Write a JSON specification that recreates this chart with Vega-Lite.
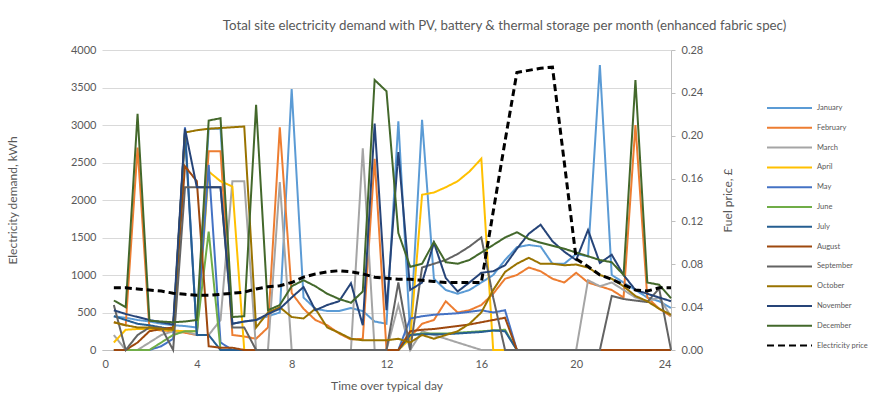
{
"$schema": "https://vega.github.io/schema/vega-lite/v6.json",
"width": 569, "height": 300,
"autosize": {"type": "none"},
"padding": {"left": 102, "top": 50, "right": 214, "bottom": 62},
"background": "white",
"config": {"font": "Lato", "view": {"stroke": null}},
"title": {"text": "Total site electricity demand with PV, battery & thermal storage per month  (enhanced fabric spec)", "fontSize": 13.3, "fontWeight": "normal", "color": "#595959", "anchor": "middle", "dx": 118, "offset": 12},
"data": {"values": [
{"t":0.5,"January":450,"February":370,"March":200,"April":100,"May":0,"June":0,"July":450,"August":0,"September":600,"October":370,"November":530,"December":660,"Electricity price":0.058},
{"t":1,"January":430,"February":330,"March":0,"April":270,"May":0,"June":0,"July":400,"August":0,"September":0,"October":330,"November":480,"December":570,"Electricity price":0.058},
{"t":1.5,"January":400,"February":2700,"March":0,"April":280,"May":0,"June":0,"July":350,"August":100,"September":200,"October":300,"November":440,"December":3150,"Electricity price":0.057},
{"t":2,"January":380,"February":280,"March":100,"April":280,"May":0,"June":0,"July":330,"August":250,"September":300,"October":300,"November":400,"December":390,"Electricity price":0.056},
{"t":2.5,"January":350,"February":260,"March":200,"April":270,"May":50,"June":100,"July":300,"August":280,"September":300,"October":280,"November":370,"December":380,"Electricity price":0.055},
{"t":3,"January":330,"February":250,"March":250,"April":260,"May":150,"June":200,"July":280,"August":300,"September":0,"October":270,"November":340,"December":370,"Electricity price":0.053},
{"t":3.5,"January":320,"February":230,"March":250,"April":250,"May":2970,"June":250,"July":2900,"August":2450,"September":2170,"October":2900,"November":2950,"December":380,"Electricity price":0.052},
{"t":4,"January":300,"February":200,"March":200,"April":250,"May":200,"June":250,"July":200,"August":2250,"September":2170,"October":2930,"November":2170,"December":400,"Electricity price":0.051},
{"t":4.5,"January":2950,"February":2650,"March":200,"April":2380,"May":2470,"June":1580,"July":200,"August":50,"September":2170,"October":2950,"November":2170,"December":3060,"Electricity price":0.051},
{"t":5,"January":2950,"February":2650,"March":400,"April":2250,"May":100,"June":0,"July":0,"August":30,"September":2170,"October":2960,"November":2170,"December":3090,"Electricity price":0.052},
{"t":5.5,"January":350,"February":200,"March":2250,"April":2180,"May":0,"June":0,"July":0,"August":30,"September":300,"October":2970,"November":350,"December":440,"Electricity price":0.053},
{"t":6,"January":380,"February":180,"March":2250,"April":0,"May":0,"June":0,"July":0,"August":0,"September":300,"October":2980,"November":380,"December":450,"Electricity price":0.054},
{"t":6.5,"January":400,"February":150,"March":0,"April":0,"May":0,"June":0,"July":0,"August":0,"September":0,"October":300,"November":400,"December":3270,"Electricity price":0.057},
{"t":7,"January":450,"February":300,"March":0,"April":0,"May":0,"June":0,"July":0,"August":0,"September":0,"October":500,"November":480,"December":530,"Electricity price":0.059},
{"t":7.5,"January":500,"February":2970,"March":2240,"April":0,"May":0,"June":0,"July":0,"August":0,"September":0,"October":570,"November":550,"December":600,"Electricity price":0.06},
{"t":8,"January":3480,"February":760,"March":0,"April":0,"May":0,"June":0,"July":0,"August":0,"September":0,"October":440,"November":700,"December":850,"Electricity price":0.063},
{"t":8.5,"January":700,"February":550,"March":0,"April":0,"May":0,"June":0,"July":0,"August":0,"September":0,"October":420,"November":840,"December":930,"Electricity price":0.068},
{"t":9,"January":550,"February":400,"March":0,"April":0,"May":0,"June":0,"July":0,"August":0,"September":0,"October":550,"November":530,"December":850,"Electricity price":0.071},
{"t":9.5,"January":520,"February":330,"March":0,"April":0,"May":0,"June":0,"July":0,"August":0,"September":0,"October":300,"November":600,"December":750,"Electricity price":0.073},
{"t":10,"January":520,"February":220,"March":0,"April":0,"May":0,"June":0,"July":0,"August":0,"September":0,"October":230,"November":650,"December":680,"Electricity price":0.074},
{"t":10.5,"January":560,"February":140,"March":0,"April":0,"May":0,"June":0,"July":0,"August":0,"September":0,"October":150,"November":890,"December":630,"Electricity price":0.073},
{"t":11,"January":520,"February":150,"March":2690,"April":0,"May":0,"June":0,"July":0,"August":0,"September":0,"October":130,"November":330,"December":780,"Electricity price":0.071},
{"t":11.5,"January":380,"February":2550,"March":0,"April":0,"May":0,"June":0,"July":0,"August":0,"September":0,"October":130,"November":3020,"December":3600,"Electricity price":0.068},
{"t":12,"January":350,"February":0,"March":0,"April":0,"May":0,"June":0,"July":0,"August":0,"September":0,"October":130,"November":530,"December":3450,"Electricity price":0.067},
{"t":12.5,"January":3050,"February":0,"March":600,"April":0,"May":0,"June":0,"July":0,"August":0,"September":900,"October":150,"November":2640,"December":1560,"Electricity price":0.066},
{"t":13,"January":200,"February":170,"March":0,"April":150,"May":420,"June":200,"July":200,"August":250,"September":0,"October":100,"November":800,"December":1110,"Electricity price":0.066},
{"t":13.5,"January":3070,"February":350,"March":250,"April":2070,"May":450,"June":220,"July":210,"August":270,"September":1100,"October":200,"November":900,"December":1150,"Electricity price":0.065},
{"t":14,"January":950,"February":400,"March":200,"April":2100,"May":470,"June":220,"July":210,"August":280,"September":1150,"October":150,"November":1430,"December":1440,"Electricity price":0.064},
{"t":14.5,"January":800,"February":650,"March":150,"April":2170,"May":480,"June":220,"July":210,"August":300,"September":1200,"October":200,"November":960,"December":1170,"Electricity price":0.063},
{"t":15,"January":750,"February":500,"March":100,"April":2250,"May":490,"June":230,"July":220,"August":320,"September":1280,"October":250,"November":780,"December":1150,"Electricity price":0.063},
{"t":15.5,"January":800,"February":530,"March":50,"April":2380,"May":510,"June":240,"July":230,"August":340,"September":1380,"October":350,"November":900,"December":1200,"Electricity price":0.063},
{"t":16,"January":900,"February":600,"March":0,"April":2550,"May":530,"June":250,"July":240,"August":370,"September":1500,"October":500,"November":1030,"December":1300,"Electricity price":0.063},
{"t":16.5,"January":1000,"February":750,"March":0,"April":0,"May":500,"June":260,"July":260,"August":400,"September":700,"October":800,"November":1050,"December":1400,"Electricity price":0.129},
{"t":17,"January":1200,"February":950,"March":0,"April":0,"May":530,"June":270,"July":250,"August":430,"September":0,"October":1040,"November":1130,"December":1500,"Electricity price":0.195},
{"t":17.5,"January":1370,"February":1000,"March":0,"April":0,"May":0,"June":0,"July":0,"August":0,"September":0,"October":1150,"November":1350,"December":1570,"Electricity price":0.259},
{"t":18,"January":1400,"February":1100,"March":0,"April":0,"May":0,"June":0,"July":0,"August":0,"September":0,"October":1230,"November":1550,"December":1480,"Electricity price":0.261},
{"t":18.5,"January":1380,"February":1050,"March":0,"April":0,"May":0,"June":0,"July":0,"August":0,"September":0,"October":1150,"November":1670,"December":1430,"Electricity price":0.263},
{"t":19,"January":1150,"February":950,"March":0,"April":0,"May":0,"June":0,"July":0,"August":0,"September":0,"October":1150,"November":1450,"December":1390,"Electricity price":0.264},
{"t":19.5,"January":1150,"February":900,"March":0,"April":0,"May":0,"June":0,"July":0,"August":0,"September":0,"October":1130,"November":1310,"December":1350,"Electricity price":0.175},
{"t":20,"January":1280,"February":1030,"March":0,"April":0,"May":0,"June":0,"July":0,"August":0,"September":0,"October":1140,"November":1200,"December":1300,"Electricity price":0.085},
{"t":20.5,"January":1250,"February":900,"March":930,"April":0,"May":0,"June":0,"July":0,"August":0,"September":0,"October":1100,"November":1600,"December":1250,"Electricity price":0.078},
{"t":21,"January":3800,"February":850,"March":850,"April":0,"May":0,"June":0,"July":0,"August":0,"September":0,"October":1000,"November":1160,"December":1200,"Electricity price":0.07},
{"t":21.5,"January":1000,"February":800,"March":900,"April":0,"May":0,"June":0,"July":0,"August":0,"September":720,"October":950,"November":1270,"December":1170,"Electricity price":0.066},
{"t":22,"January":900,"February":700,"March":800,"April":0,"May":0,"June":0,"July":0,"August":0,"September":680,"October":850,"November":1000,"December":1000,"Electricity price":0.061},
{"t":22.5,"January":800,"February":3000,"March":700,"April":0,"May":0,"June":0,"July":0,"August":0,"September":660,"October":720,"November":800,"December":3600,"Electricity price":0.056},
{"t":23,"January":700,"February":700,"March":650,"April":0,"May":0,"June":0,"July":0,"August":0,"September":640,"October":650,"November":750,"December":900,"Electricity price":0.055},
{"t":23.5,"January":650,"February":550,"March":700,"April":0,"May":0,"June":0,"July":0,"August":0,"September":820,"October":550,"November":700,"December":870,"Electricity price":0.058},
{"t":24,"January":560,"February":450,"March":450,"April":0,"May":0,"June":0,"July":0,"August":0,"September":0,"October":470,"November":650,"December":690,"Electricity price":0.058}
]},
"transform": [{"fold": ["January","February","March","April","May","June","July","August","September","October","November","December","Electricity price"], "as": ["series", "v"]}],
"encoding": {
  "x": {"field": "t", "type": "quantitative", "scale": {"domain": [0, 24], "nice": false},
    "axis": {"values": [0,4,8,12,16,20,24], "title": "Time over typical day", "titleFontSize": 12, "titleColor": "#595959", "titleFontWeight": "normal", "titlePadding": 11, "labelFontSize": 11, "labelColor": "#595959", "labelPadding": 8, "domainColor": "#BFBFBF", "ticks": false, "grid": false}},
  "color": {"field": "series", "type": "nominal",
    "scale": {"domain": ["January","February","March","April","May","June","July","August","September","October","November","December","Electricity price"],
      "range": ["#5B9BD5","#ED7D31","#A5A5A5","#FFC000","#4472C4","#70AD47","#255E91","#9E480E","#636363","#997300","#264478","#43682B","#000000"]},
    "legend": {"orient": "none", "legendX": 665, "legendY": 48, "title": null, "symbolType": "M-1.11,0H3.89", "symbolSize": 324, "symbolStrokeWidth": 2, "labelFontSize": 7.5, "labelColor": "#595959", "labelOffset": 30, "rowPadding": 5.8, "padding": 0}},
  "strokeDash": {"field": "series", "type": "nominal",
    "scale": {"domain": ["January","February","March","April","May","June","July","August","September","October","November","December","Electricity price"],
      "range": [[1,0],[1,0],[1,0],[1,0],[1,0],[1,0],[1,0],[1,0],[1,0],[1,0],[1,0],[1,0],[7,4]]},
    "legend": {"orient": "none", "legendX": 665, "legendY": 48, "title": null, "symbolType": "M-1.11,0H3.89", "symbolSize": 324, "symbolStrokeWidth": 2, "labelFontSize": 7.5, "labelColor": "#595959", "labelOffset": 30, "rowPadding": 5.8, "padding": 0}}
},
"layer": [
  {"transform": [{"filter": "datum.series !== 'Electricity price'"}],
   "mark": {"type": "line", "strokeWidth": 2},
   "encoding": {"y": {"field": "v", "type": "quantitative", "scale": {"domain": [0, 4000], "nice": false},
     "axis": {"values": [0,500,1000,1500,2000,2500,3000,3500,4000], "format": "d", "title": "Electricity demand, kWh", "titleFontSize": 12, "titleColor": "#595959", "titleFontWeight": "normal", "titleX": -90, "titleY": 150, "titleAngle": 270, "titleAlign": "center", "titleBaseline": "middle", "labelFontSize": 11, "labelColor": "#595959", "labelPadding": 6, "grid": true, "gridColor": "#D9D9D9", "domain": false, "ticks": false}}}},
  {"transform": [{"filter": "datum.series === 'Electricity price'"}],
   "mark": {"type": "line", "strokeWidth": 3},
   "encoding": {"y": {"field": "v", "type": "quantitative", "scale": {"domain": [0, 0.28], "nice": false},
     "axis": {"orient": "right", "values": [0,0.04,0.08,0.12,0.16,0.2,0.24,0.28], "format": ".2f", "title": "Fuel price, £", "titleFontSize": 12, "titleColor": "#595959", "titleFontWeight": "normal", "titleX": 56, "titleY": 150, "titleAngle": 270, "titleAlign": "center", "titleBaseline": "middle", "labelFontSize": 11, "labelColor": "#595959", "labelPadding": 6, "grid": false, "domain": true, "domainColor": "#BFBFBF", "ticks": true, "tickColor": "#BFBFBF", "tickSize": 4}}}}
],
"resolve": {"scale": {"y": "independent"}}
}
